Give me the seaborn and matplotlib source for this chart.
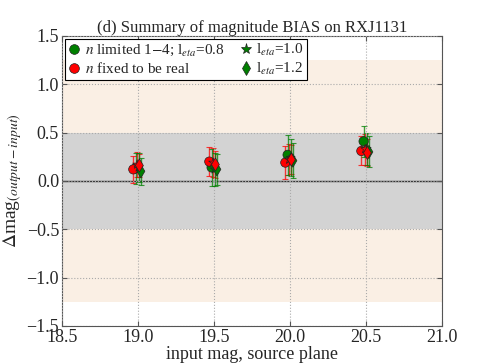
import matplotlib
matplotlib.use('Agg')
import matplotlib.pyplot as plt
import seaborn as sns
import numpy as np
import pandas as pd
from matplotlib.lines import Line2D

# input magnitudes and per-run offsets along x
mags = [19.0, 19.5, 20.0, 20.5]
leta = ['0.8', '1.0', '1.2']
green_off = [-0.015, 0.005, 0.02]
red_off = [-0.03, -0.005, 0.01]

# bias values (n limited 1-4, green) for l_eta = 0.8, 1.0, 1.2
green_val = [[0.13, 0.14, 0.27, 0.41],
             [0.14, 0.12, 0.24, 0.33],
             [0.10, 0.12, 0.21, 0.30]]
green_err = [[0.16, 0.19, 0.21, 0.16],
             [0.15, 0.17, 0.19, 0.17],
             [0.14, 0.16, 0.18, 0.16]]
# bias values (n fixed, red)
red_val = [[0.12, 0.20, 0.19, 0.31],
           [0.17, 0.19, 0.22, 0.33],
           [0.16, 0.17, 0.22, 0.29]]
red_err = [[0.14, 0.15, 0.17, 0.15],
           [0.13, 0.15, 0.16, 0.16],
           [0.12, 0.14, 0.15, 0.14]]

markers = ['o', '*', 'd']

rows = []
for k, l in enumerate(leta):
    for i, m in enumerate(mags):
        rows.append(dict(x=m + green_off[k], y=green_val[k][i], e=green_err[k][i], n='limited', leta=l))
        rows.append(dict(x=m + red_off[k], y=red_val[k][i], e=red_err[k][i], n='fixed', leta=l))
df = pd.DataFrame(rows)

sns.set_style('ticks')
plt.rcParams['font.family'] = ['Liberation Serif', 'DejaVu Serif']
plt.rcParams['mathtext.fontset'] = 'stix'
plt.rcParams['xtick.direction'] = 'in'
plt.rcParams['ytick.direction'] = 'in'

fig = plt.figure(figsize=(4.91, 3.63), dpi=100)
ax = fig.add_axes([0.126, 0.102, 0.774, 0.799])

ax.axhspan(-1.25, 1.25, color='#faefe4', zorder=0, lw=0)
ax.axhspan(-0.5, 0.5, color='#d3d3d3', zorder=0, lw=0)
ax.axhline(0, color='#333333', lw=1, zorder=1)

for (nn, l), sub in df.groupby(['n', 'leta']):
    c = 'green' if nn == 'limited' else 'red'
    ax.errorbar(sub['x'], sub['y'], yerr=sub['e'], fmt='none', ecolor=c,
                elinewidth=1.0, capsize=2, capthick=0.8, alpha=0.75, zorder=2)

pal = {'limited': 'green', 'fixed': 'red'}
mk = dict(zip(leta, markers))
sns.scatterplot(data=df, x='x', y='y', hue='n', style='leta', palette=pal,
                markers=mk, s=45, edgecolor='#222222', linewidth=0.5,
                ax=ax, legend=False, zorder=3)

ax.set_xlim(18.5, 21.0)
ax.set_ylim(-1.5, 1.5)
ax.set_xticks([18.5, 19.0, 19.5, 20.0, 20.5, 21.0])
ax.set_yticks([-1.5, -1.0, -0.5, 0.0, 0.5, 1.0, 1.5])
ax.grid(True, color='#aaaaaa', ls=':', lw=0.8)
ax.set_axisbelow(False)
for s in ax.spines.values():
    s.set_color('#555555')
ax.tick_params(labelsize=13, top=True, right=True, pad=2, color='#555555')

ax.set_xlabel('input mag, source plane', fontsize=13, labelpad=0)
ax.set_ylabel(r'$\Delta$mag$_{(output-input)}$', fontsize=14, labelpad=2)
ax.set_title('(d) Summary of magnitude BIAS on RXJ1131', fontsize=12, pad=3)

handles = [
    Line2D([], [], ls='', marker='o', color='green', mec='#222222', mew=0.5, ms=7),
    Line2D([], [], ls='', marker='o', color='red', mec='#222222', mew=0.5, ms=7),
    Line2D([], [], ls='', marker='*', color='green', mec='#222222', mew=0.5, ms=8),
    Line2D([], [], ls='', marker='d', color='green', mec='#222222', mew=0.5, ms=7),
]
labels = [r'$n$ limited 1$-$4; l$_{eta}$=0.8', r'$n$ fixed to be real',
          r'l$_{eta}$=1.0', r'l$_{eta}$=1.2']
leg = ax.legend(handles, labels, ncol=2, loc='upper left', fontsize=11,
                frameon=True, fancybox=False, edgecolor='black', framealpha=1,
                handlelength=0.8, handletextpad=0.3, columnspacing=1.0,
                borderpad=0.2, labelspacing=0.2, borderaxespad=0.2)
leg.get_frame().set_linewidth(0.8)

fig.savefig('out.png', dpi=100)
